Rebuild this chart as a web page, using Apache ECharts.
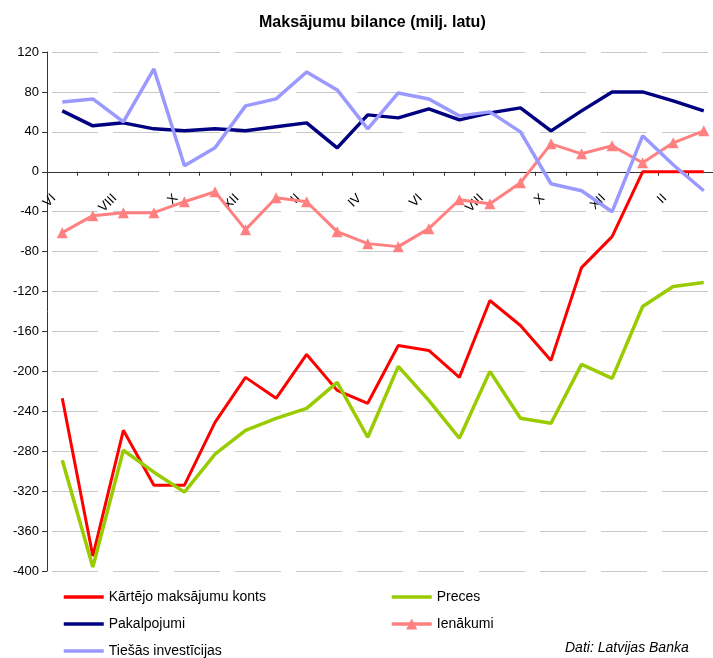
<!DOCTYPE html>
<html>
<head>
<meta charset="utf-8">
<script src="https://cdn.jsdelivr.net/npm/echarts@6/dist/echarts.min.js"></script>
<style>
  html, body { margin: 0; padding: 0; background: #fff; }
  #chart { width: 713px; height: 658px; }
</style>
</head>
<body>
<div id="chart"></div>
<script>
// months, June of year 1 to March of year 3
const months = ['VI', 'VII', 'VIII', 'IX', 'X', 'XI', 'XII', 'I', 'II', 'III', 'IV',
  'V', 'VI', 'VII', 'VIII', 'IX', 'X', 'XI', 'XII', 'I', 'II', 'III'];

const currentAccount = [-227, -385, -259, -314, -314, -251, -206, -227, -183, -219, -232,
  -174, -179, -206, -129, -154, -189, -96, -65, 0, 0, 0];
const goods = [-289, -396, -279, -301, -321, -283, -259, -247, -237, -211, -266,
  -195, -229, -267, -200, -247, -252, -193, -207, -135, -115, -111];
const services = [61, 46, 49, 43, 41, 43, 41, 45, 49, 24, 57,
  54, 63, 52, 59, 64, 41, 61, 80, 80, 71, 61];
const income = [-61, -44, -41, -41, -30, -20, -58, -26, -30, -60, -72,
  -75, -57, -28, -32, -11, 28, 18, 26, 9, 29, 41];
const fdi = [70, 73, 50, 103, 6, 24, 66, 73, 100, 82, 43,
  79, 73, 56, 60, 40, -12, -19, -40, 36, 7, -19];

const yMin = -400;
const yMax = 120;

const font = "'Liberation Sans', Arial, sans-serif";

const gridTop = 52;
const gridHeight = 519;
// x axis sits on the zero line: shift it up from the bottom of the grid
const zeroOffset = -gridHeight * (0 - yMin) / (yMax - yMin);

const chart = echarts.init(document.getElementById('chart'), null, {renderer: 'canvas'});

function lineSeries(name, data, color, width) {
  return {
    name: name,
    type: 'line',
    data: data,
    symbol: 'none',
    lineStyle: {color: color, width: width},
    itemStyle: {color: color},
    animation: false
  };
}

function plainItem(name) {
  return {name: name, itemStyle: {opacity: 0}};
}

const legendBase = {
  orient: 'vertical',
  top: 590,
  height: 80,
  padding: 0,
  itemWidth: 40,
  itemHeight: 14,
  itemGap: 13,
  lineStyle: {width: 3.5},
  textStyle: {fontFamily: font, fontSize: 14, color: '#000'}
};

const option = {
  backgroundColor: '#fff',
  textStyle: {fontFamily: font, color: '#000'},
  title: {
    text: 'Maksājumu bilance (milj. latu)',
    left: 254,
    top: 10,
    textStyle: {fontFamily: font, fontSize: 16, fontWeight: 'bold', color: '#000'}
  },
  grid: {
    left: 47, right: -6, top: gridTop, height: gridHeight,
    containLabel: false, outerBoundsMode: 'none'
  },
  legend: [
    Object.assign({}, legendBase, {
      left: 62,
      data: [plainItem('Kārtējo maksājumu konts'), plainItem('Pakalpojumi'), plainItem('Tiešās investīcijas')]
    }),
    Object.assign({}, legendBase, {
      left: 390,
      data: [plainItem('Preces'), 'Ienākumi']
    })
  ],
  xAxis: {
    type: 'category',
    data: months,
    boundaryGap: true,
    offset: zeroOffset,
    axisLine: {onZero: false, lineStyle: {color: '#333', width: 1}},
    axisTick: {show: true, interval: 0, length: 4, lineStyle: {color: '#333'}},
    axisLabel: {
      interval: 1,
      rotate: 45,
      margin: 16,
      padding: [0, 12, 0, 0],
      fontFamily: font,
      fontSize: 13,
      color: '#000'
    },
    splitLine: {show: false}
  },
  yAxis: {
    type: 'value',
    min: yMin,
    max: yMax,
    interval: 40,
    axisLine: {show: true, lineStyle: {color: '#333', width: 1}},
    axisTick: {show: true, length: 5, lineStyle: {color: '#333'}},
    axisLabel: {fontFamily: font, fontSize: 13, color: '#000', margin: 8},
    splitLine: {
      show: true,
      lineStyle: {color: '#c8c8c8', width: 1, type: [46, 15], dashOffset: 56}
    }
  },
  graphic: [
    {
      type: 'text',
      left: 565,
      top: 641,
      style: {text: 'Dati: Latvijas Banka', font: 'italic 14px ' + font, fill: '#000'}
    }
  ],
  series: [
    lineSeries('Kārtējo maksājumu konts', currentAccount, '#ff0000', 3),
    lineSeries('Preces', goods, '#99cc00', 3.5),
    lineSeries('Pakalpojumi', services, '#000080', 3.5),
    {
      name: 'Ienākumi',
      type: 'line',
      data: income,
      symbol: 'triangle',
      symbolSize: 11,
      lineStyle: {color: '#ff8080', width: 3},
      itemStyle: {color: '#ff8080'},
      animation: false
    },
    lineSeries('Tiešās investīcijas', fdi, '#9999ff', 3.5)
  ]
};

chart.setOption(option);
</script>
</body>
</html>
